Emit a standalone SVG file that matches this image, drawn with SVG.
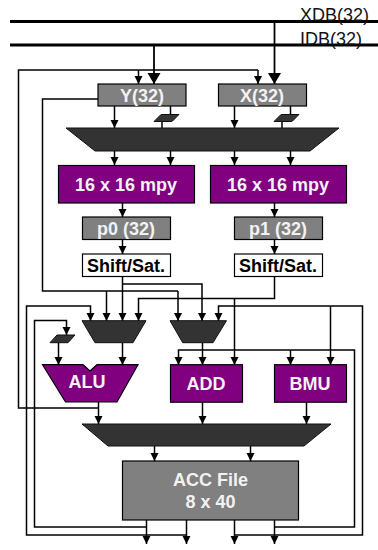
<svg xmlns="http://www.w3.org/2000/svg" width="378" height="550" viewBox="0 0 378 550">
<style>
text{font-family:"Liberation Sans",Arial,sans-serif;font-weight:bold;text-anchor:middle;fill:#f2f2f2;font-size:18px}
.bus{font-weight:normal;fill:#111;text-anchor:start}
.blk{fill:#000}
.b{stroke:#000;stroke-width:3;fill:none}
.w{stroke:#000;stroke-width:1.5;fill:none}
.a{marker-end:url(#sa)}
.t{stroke:#000;stroke-width:1.8;fill:none;marker-end:url(#la)}
.gray{fill:#808080;stroke:#000;stroke-width:1.2}
.pur{fill:#800080;stroke:#000;stroke-width:1.2}
.dark{fill:#333;stroke:#111;stroke-width:1}
.wh{fill:#fff;stroke:#000;stroke-width:1.2}
</style>
<defs>
<marker id="sa" markerUnits="userSpaceOnUse" markerWidth="9" markerHeight="9" refX="8" refY="4.500" orient="auto"><path d="M0 0.500L8 4.500L0 8.500Z" fill="#000"/></marker>
<marker id="la" markerUnits="userSpaceOnUse" markerWidth="12" markerHeight="14" refX="11" refY="6.500" orient="auto"><path d="M0 0L11 6.500L0 13Z" fill="#000"/></marker>
</defs>
<g id="connectors">
<path class="b" d="M10 21.500H378M10 45H378"/>
<path class="t" d="M274.500 21.500V84"/>
<path class="t" d="M154 45V84"/>
<path class="w" d="M98 408H18.500V70H258"/>
<path class="w a" d="M138.500 70V84"/>
<path class="w a" d="M258 70V84"/>
<path class="w" d="M98 99H42.500V291H178"/>
<path class="w a" d="M114.500 106V128"/>
<path class="w a" d="M234.500 106V128"/>
<path class="w" d="M170.500 106V115M290.500 106V115M162 122V128M282 122V128"/>
<path class="w a" d="M114.500 151V165"/>
<path class="w a" d="M170.500 151V165"/>
<path class="w a" d="M234.500 151V165"/>
<path class="w a" d="M290.500 151V165"/>
<path class="w a" d="M122.500 203V217"/>
<path class="w a" d="M274.500 203V217"/>
<path class="w a" d="M122.500 240V254"/>
<path class="w a" d="M274.500 240V254"/>
<path class="w a" d="M122.500 276V321"/>
<path class="w a" d="M122.500 284H202V321"/>
<path class="w a" d="M274.500 276V298.500H138.500V321"/>
<path class="w a" d="M106.500 291V321"/>
<path class="w a" d="M178 291V321"/>
<path class="w a" d="M186.500 535H26.500V306H90.500V321"/>
<path class="w a" d="M234.500 535H362.500V306H218.500V321"/>
<path class="w a" d="M330.500 306V365"/>
<path class="w a" d="M234.500 298.500V365"/>
<path class="w a" d="M146.500 527H34.500V320.500H66.500V335"/>
<path class="w a" d="M274.500 527H354.500V350H178.500V365"/>
<path class="w a" d="M202.500 343V365"/>
<path class="w a" d="M290.500 350V365"/>
<path class="w a" d="M122.500 343V365"/>
<path class="w a" d="M58.500 343V365"/>
<path class="w a" d="M98.500 402V424"/>
<path class="w a" d="M202.500 402V424"/>
<path class="w a" d="M306.500 402V424"/>
<path class="w a" d="M154.500 446V461"/>
<path class="w a" d="M250.500 446V461"/>
<path class="w a" d="M146.500 520V544"/>
<path class="w a" d="M186.500 520V544"/>
<path class="w a" d="M234.500 520V544"/>
<path class="w a" d="M274.500 520V544"/>
</g>
<g id="xdb"><text class="bus" x="300" y="20.500">XDB(32)</text></g>
<g id="idb"><text class="bus" x="300" y="44.500">IDB(32)</text></g>
<g id="y-reg"><rect class="gray" x="98" y="84" width="88" height="22"/><text x="142" y="102">Y(32)</text></g>
<g id="x-reg"><rect class="gray" x="218.500" y="84" width="88" height="22"/><text x="262" y="102">X(32)</text></g>
<g id="latch-y"><path class="dark" d="M154 121.500L161 114.500H179L172 121.500Z"/></g>
<g id="latch-x"><path class="dark" d="M274 121.500L281 114.500H299L292 121.500Z"/></g>
<g id="mux-top"><path class="dark" d="M66 128H339L310 151H95Z"/></g>
<g id="mpy0"><rect class="pur" x="58.500" y="165.500" width="136" height="37.500"/><text x="126" y="191">16 x 16 mpy</text></g>
<g id="mpy1"><rect class="pur" x="210.500" y="165.500" width="136" height="37.500"/><text x="278" y="191">16 x 16 mpy</text></g>
<g id="p0"><rect class="gray" x="82.500" y="217" width="88" height="22.500"/><text x="126" y="235">p0 (32)</text></g>
<g id="p1"><rect class="gray" x="234.500" y="217" width="88" height="22.500"/><text x="278" y="235">p1 (32)</text></g>
<g id="shift0"><rect class="wh" x="82.500" y="254" width="88" height="22.500"/><text class="blk" x="126" y="272">Shift/Sat.</text></g>
<g id="shift1"><rect class="wh" x="234.500" y="254" width="88" height="22.500"/><text class="blk" x="278" y="272">Shift/Sat.</text></g>
<g id="mux-a"><path class="dark" d="M82 320.700H146L133 342.700H95Z"/></g>
<g id="mux-b"><path class="dark" d="M170 320.700H226.500L213 342.700H182.700Z"/></g>
<g id="latch-alu"><path class="dark" d="M50 342.700L57 335H75L68 342.700Z"/></g>
<g id="alu"><path class="pur" d="M42.500 364.700H83L90 371L97 364.700H138L117 402H65.500Z"/><text x="87" y="388">ALU</text></g>
<g id="add"><rect class="pur" x="170.500" y="364.700" width="72" height="37.500"/><text x="206" y="390">ADD</text></g>
<g id="bmu"><rect class="pur" x="274.500" y="364.700" width="72" height="37.500"/><text x="310" y="390">BMU</text></g>
<g id="mux-bottom"><path class="dark" d="M82 424H331L304 446H108Z"/></g>
<g id="acc"><rect class="gray" x="122.500" y="461" width="176" height="59"/><text x="210.500" y="486">ACC File</text><text x="210.500" y="508">8 x 40</text></g>
</svg>
